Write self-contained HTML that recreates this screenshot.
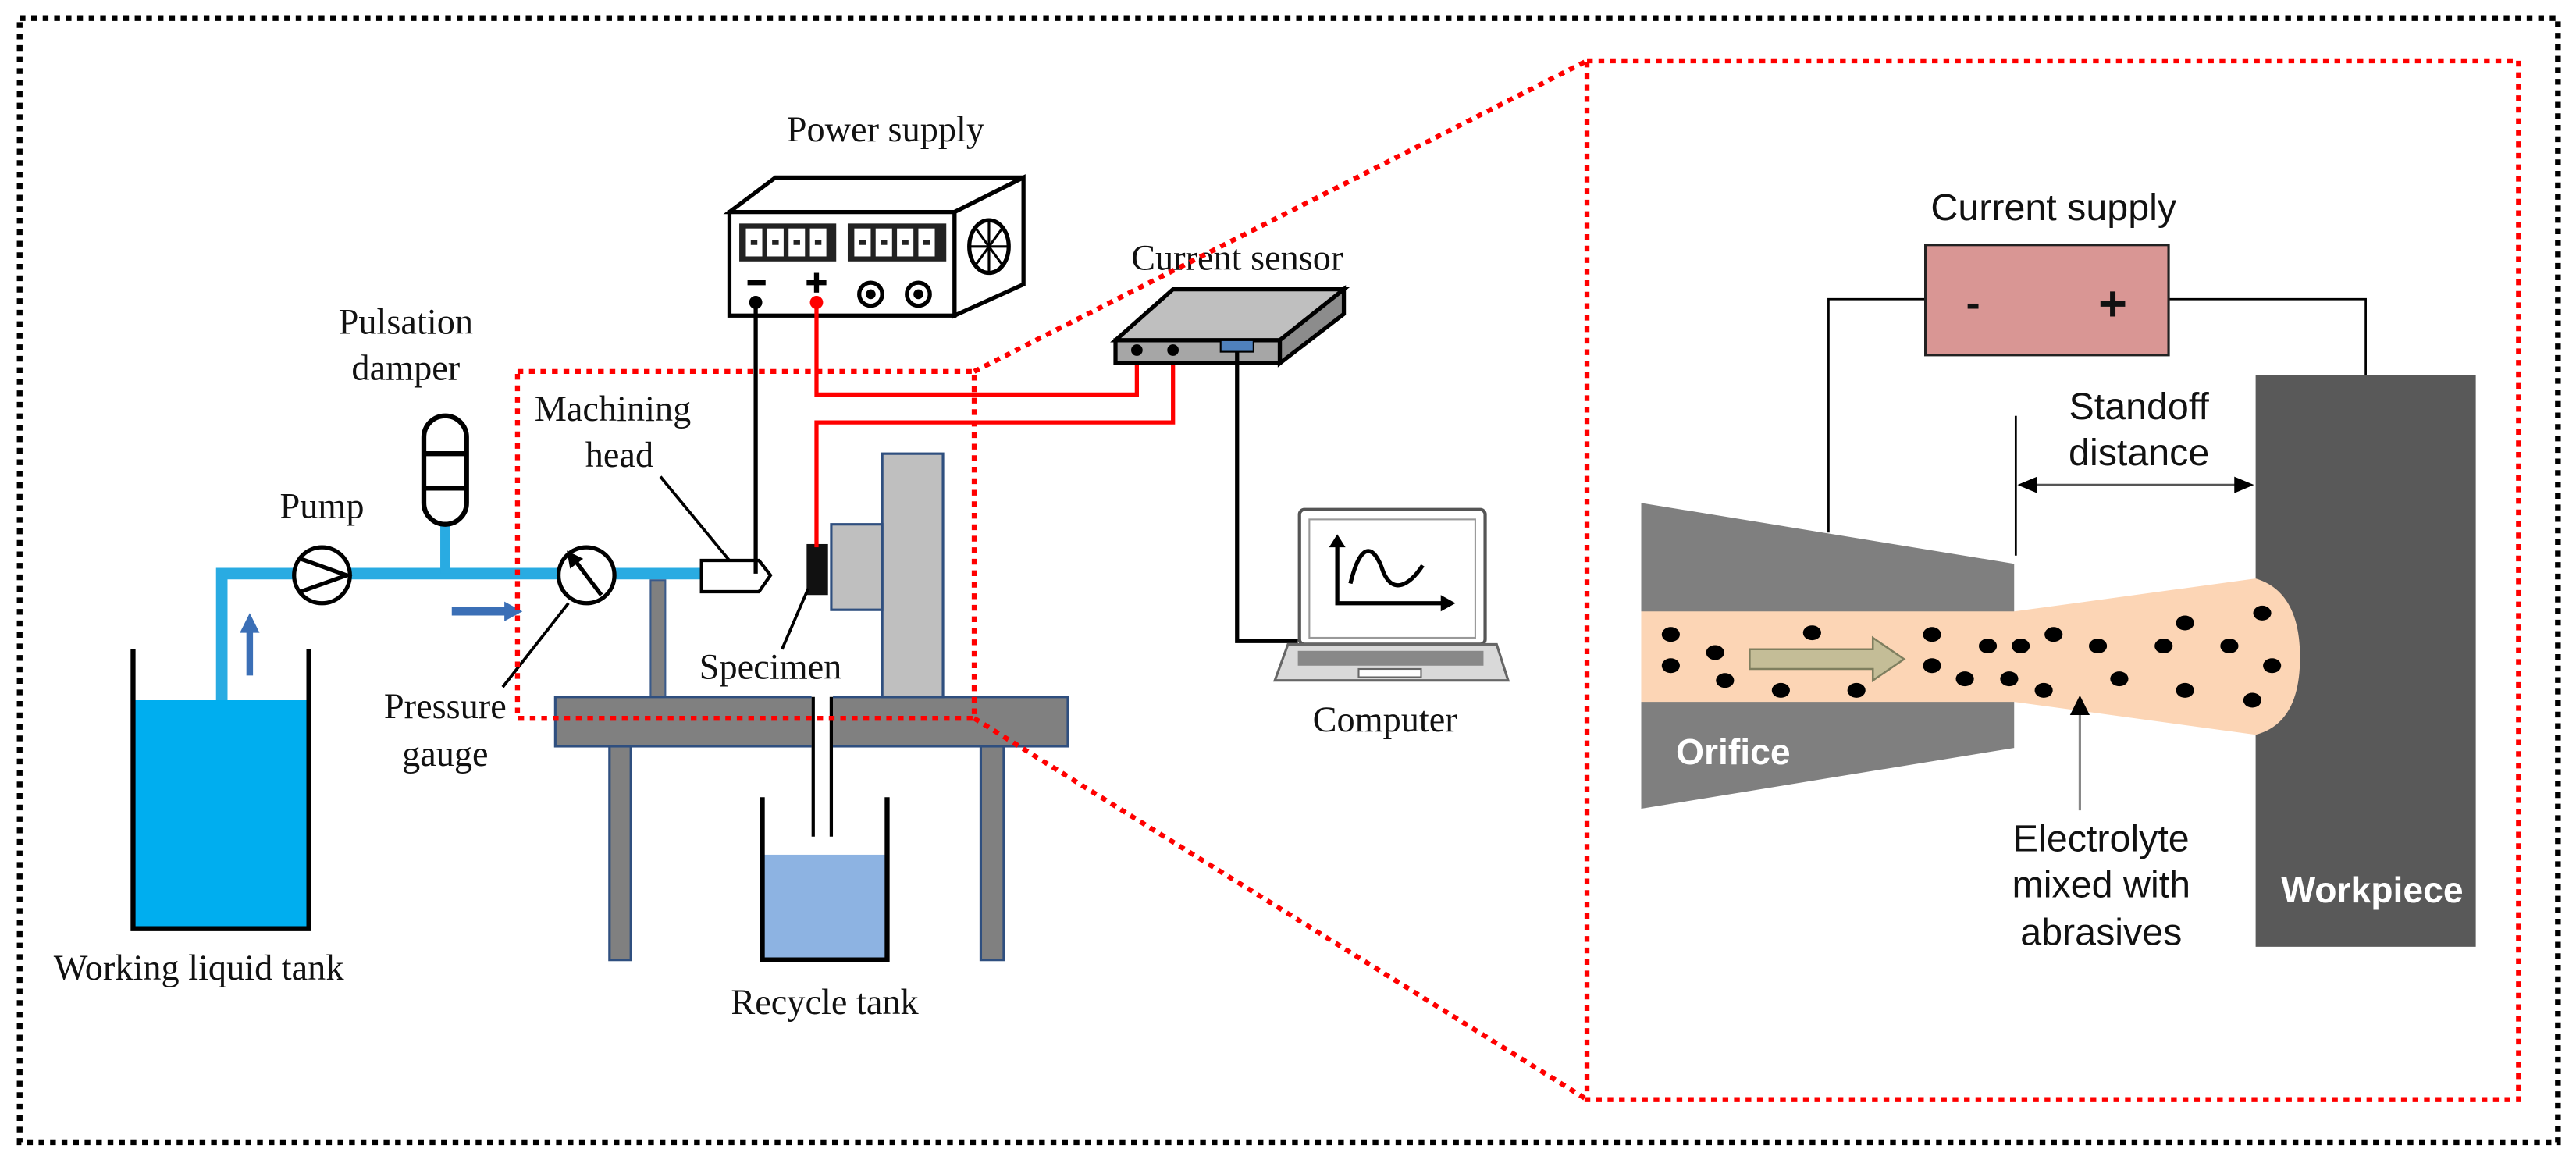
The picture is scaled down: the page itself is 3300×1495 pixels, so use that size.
<!DOCTYPE html>
<html><head><meta charset="utf-8"><style>
html,body{margin:0;padding:0;background:#fff;}
svg{display:block;}
.t{font-family:"Liberation Serif",serif;font-size:22px;fill:#111;text-anchor:middle;}
.a{font-family:"Liberation Sans",sans-serif;font-size:23px;fill:#111;text-anchor:middle;}
</style></head><body>
<svg width="3300" height="1495" viewBox="0 0 1568 710" preserveAspectRatio="none" xmlns="http://www.w3.org/2000/svg">
<rect x="0" y="0" width="1568" height="710" fill="#fff"/>
<rect x="12" y="11" width="1545" height="684" fill="none" stroke="#000" stroke-width="3.5" stroke-dasharray="3.5 3.5"/>

<rect x="81" y="426" width="107" height="139" fill="#00aeef"/>
<polyline points="81,395 81,565 188,565 188,395" fill="none" stroke="#000" stroke-width="3"/>
<polyline points="135,426 135,349 466,349" fill="none" stroke="#29abe2" stroke-width="7"/>
<line x1="271" y1="319" x2="271" y2="349" stroke="#29abe2" stroke-width="6"/>
<line x1="152" y1="411" x2="152" y2="384" stroke="#3b6fb6" stroke-width="4"/>
<polygon points="146,385 158,385 152,373" fill="#3b6fb6"/>
<line x1="275" y1="372" x2="308" y2="372" stroke="#3b6fb6" stroke-width="5"/>
<polygon points="307,366 307,378 318,372" fill="#3b6fb6"/>
<circle cx="196" cy="350" r="17" fill="#fff" stroke="#000" stroke-width="2.5"/>
<polyline points="183,340 211,350 183,360" fill="none" stroke="#000" stroke-width="2.5"/>
<rect x="258" y="253" width="26" height="66" rx="13" fill="#fff" stroke="#000" stroke-width="3"/>
<line x1="258" y1="276" x2="284" y2="276" stroke="#000" stroke-width="3"/>
<line x1="258" y1="297" x2="284" y2="297" stroke="#000" stroke-width="3"/>
<circle cx="357" cy="350" r="17" fill="#fff" stroke="#000" stroke-width="2.5"/>
<line x1="366" y1="362" x2="350" y2="341" stroke="#000" stroke-width="2.5"/>
<polygon points="345,335 355,340 347,346" fill="#000"/>
<line x1="346" y1="367" x2="306" y2="418" stroke="#000" stroke-width="1.8"/>
<rect x="396" y="353" width="9" height="71" fill="#808080" stroke="#3a5a8a" stroke-width="1"/>
<rect x="338" y="424" width="312" height="30" fill="#808080" stroke="#2f4f7f" stroke-width="1.5"/>
<rect x="371" y="454" width="13" height="130" fill="#808080" stroke="#2f4f7f" stroke-width="1.5"/>
<rect x="597" y="454" width="14" height="130" fill="#808080" stroke="#2f4f7f" stroke-width="1.5"/>
<rect x="494" y="420" width="13" height="89" fill="#fff"/>
<line x1="495" y1="424" x2="495" y2="509" stroke="#000" stroke-width="2"/>
<line x1="506" y1="424" x2="506" y2="509" stroke="#000" stroke-width="2"/>
<rect x="464" y="520" width="76" height="64" fill="#8db3e2"/>
<polyline points="464,485 464,584 540,584 540,485" fill="none" stroke="#000" stroke-width="3"/>
<rect x="537" y="276" width="37" height="148" fill="#bfbfbf" stroke="#2f4f7f" stroke-width="1.5"/>
<rect x="506" y="319" width="31" height="52" fill="#bfbfbf" stroke="#2f4f7f" stroke-width="1.5"/>
<rect x="491" y="331" width="13" height="31" fill="#111"/>
<polygon points="427,341 462,341 469,350 462,360 427,360" fill="#fff" stroke="#000" stroke-width="2"/>
<line x1="402" y1="290" x2="444" y2="341" stroke="#000" stroke-width="1.8"/>
<line x1="492" y1="358" x2="476" y2="395" stroke="#000" stroke-width="1.8"/>
<polygon points="444,129 472,108 623,108 581,129" fill="#fff" stroke="#000" stroke-width="2.5"/>
<polygon points="581,129 623,108 623,173 581,192" fill="#fff" stroke="#000" stroke-width="2.5"/>
<rect x="444" y="129" width="137" height="63" fill="#fff" stroke="#000" stroke-width="2.5"/>
<rect x="450" y="136" width="59" height="23" fill="#222"/>
<rect x="516" y="136" width="60" height="23" fill="#222"/>
<g fill="#fff">
<rect x="454" y="139" width="10" height="17"/><rect x="467" y="139" width="10" height="17"/><rect x="480" y="139" width="10" height="17"/><rect x="493" y="139" width="10" height="17"/>
<rect x="520" y="139" width="10" height="17"/><rect x="533" y="139" width="10" height="17"/><rect x="546" y="139" width="10" height="17"/><rect x="559" y="139" width="10" height="17"/>
</g>
<g fill="#222"><rect x="457" y="146" width="4" height="3"/><rect x="470" y="146" width="4" height="3"/><rect x="483" y="146" width="4" height="3"/><rect x="496" y="146" width="4" height="3"/><rect x="523" y="146" width="4" height="3"/><rect x="536" y="146" width="4" height="3"/><rect x="549" y="146" width="4" height="3"/><rect x="562" y="146" width="4" height="3"/></g>
<ellipse cx="602" cy="150" rx="12" ry="16" fill="#fff" stroke="#000" stroke-width="2.5"/>
<g stroke="#000" stroke-width="1.5"><line x1="590" y1="150" x2="614" y2="150"/><line x1="602" y1="134" x2="602" y2="166"/><line x1="594" y1="139" x2="610" y2="161"/><line x1="594" y1="161" x2="610" y2="139"/></g>
<line x1="455" y1="172" x2="466" y2="172" stroke="#000" stroke-width="3"/>
<line x1="491" y1="172" x2="503" y2="172" stroke="#000" stroke-width="3"/><line x1="497" y1="166" x2="497" y2="178" stroke="#000" stroke-width="3"/>
<circle cx="530" cy="179" r="7" fill="#fff" stroke="#000" stroke-width="2.5"/><circle cx="530" cy="179" r="3" fill="#000"/>
<circle cx="559" cy="179" r="7" fill="#fff" stroke="#000" stroke-width="2.5"/><circle cx="559" cy="179" r="3" fill="#000"/>
<polyline points="460,184 460,349" fill="none" stroke="#000" stroke-width="2.5"/>
<circle cx="460" cy="184" r="4" fill="#000"/>
<polyline points="497,184 497,240 692,240 692,209" fill="none" stroke="#f00" stroke-width="2.5"/>
<circle cx="497" cy="184" r="4" fill="#f00"/>
<polyline points="497,333 497,257 714,257 714,209" fill="none" stroke="#f00" stroke-width="2.5"/>
<polygon points="679,207 714,176 818,176 779,207" fill="#bfbfbf" stroke="#000" stroke-width="2.5"/>
<polygon points="779,207 818,176 818,191 779,221" fill="#8c8c8c" stroke="#000" stroke-width="2.5"/>
<rect x="679" y="207" width="100" height="14" fill="#a6a6a6" stroke="#000" stroke-width="2.5"/>
<circle cx="692" cy="213" r="3.5" fill="#000"/><circle cx="714" cy="213" r="3.5" fill="#000"/>
<rect x="743" y="207" width="20" height="7" fill="#4f81bd" stroke="#000" stroke-width="1"/>
<polyline points="753,214 753,390 790,390" fill="none" stroke="#000" stroke-width="2.5"/>
<rect x="791" y="310" width="113" height="82" rx="3" fill="#fff" stroke="#555" stroke-width="2"/>
<rect x="797" y="316" width="101" height="72" fill="#fff" stroke="#999" stroke-width="1"/>
<polygon points="784,392 911,392 918,414 776,414" fill="#d9d9d9" stroke="#666" stroke-width="1.5"/>
<rect x="790" y="396" width="113" height="9" fill="#888"/>
<rect x="827" y="407" width="38" height="5" fill="#fff" stroke="#666" stroke-width="1"/>
<polyline points="814,330 814,367 880,367" fill="none" stroke="#000" stroke-width="2.5"/>
<polygon points="809,333 819,333 814,325" fill="#000"/>
<polygon points="877,362 877,372 886,367" fill="#000"/>
<path d="M822,355 C828,330 836,330 842,348 C848,362 858,356 866,344" fill="none" stroke="#000" stroke-width="2.5"/>
<text class="t" x="539" y="86">Power supply</text>
<text class="t" x="753" y="164">Current sensor</text>
<text class="t" x="247" y="203">Pulsation</text>
<text class="t" x="247" y="231">damper</text>
<text class="t" x="196" y="315">Pump</text>
<text class="t" x="373" y="256">Machining</text>
<text class="t" x="377" y="284">head</text>
<text class="t" x="469" y="413">Specimen</text>
<text class="t" x="271" y="437">Pressure</text>
<text class="t" x="271" y="466">gauge</text>
<text class="t" x="843" y="445">Computer</text>
<text class="t" x="121" y="596">Working liquid tank</text>
<text class="t" x="502" y="617">Recycle  tank</text>

<rect x="315" y="226" width="278" height="211" fill="none" stroke="#f00" stroke-width="3" stroke-dasharray="3.5 3.5"/>
<line x1="593" y1="226" x2="966" y2="37" stroke="#f00" stroke-width="3" stroke-dasharray="3.5 3.5"/>
<line x1="593" y1="437" x2="966" y2="669" stroke="#f00" stroke-width="3" stroke-dasharray="3.5 3.5"/>
<rect x="966" y="37" width="567" height="632" fill="#fff" stroke="#f00" stroke-width="3" stroke-dasharray="3.5 3.5"/>

<polyline points="1172,182 1113,182 1113,324" fill="none" stroke="#000" stroke-width="1.3"/>
<polyline points="1320,182 1440,182 1440,228" fill="none" stroke="#000" stroke-width="1.3"/>
<rect x="1172" y="149" width="148" height="67" fill="#d99694" stroke="#222" stroke-width="1.5"/>
<text x="1201" y="193" font-family="Liberation Sans,sans-serif" font-size="26" font-weight="bold" fill="#111" text-anchor="middle">-</text>
<text x="1286" y="195" font-family="Liberation Sans,sans-serif" font-size="30" font-weight="bold" fill="#111" text-anchor="middle">+</text>
<text class="a" x="1250" y="134">Current supply</text>
<rect x="1373" y="228" width="134" height="348" fill="#595959"/>
<polygon points="999,306 1226,343 1226,455 999,492" fill="#7f7f7f"/>
<path d="M999,372 L1226,372 L1373,352 Q1400,360 1400,400 Q1400,440 1373,447 L1226,427 L999,427 Z" fill="#fcd5b5"/>
<g fill="#000">
<ellipse cx="1017" cy="386" rx="5.5" ry="4.5"/><ellipse cx="1017" cy="405" rx="5.5" ry="4.5"/><ellipse cx="1044" cy="397" rx="5.5" ry="4.5"/><ellipse cx="1050" cy="414" rx="5.5" ry="4.5"/><ellipse cx="1084" cy="420" rx="5.5" ry="4.5"/><ellipse cx="1103" cy="385" rx="5.5" ry="4.5"/><ellipse cx="1130" cy="420" rx="5.5" ry="4.5"/><ellipse cx="1176" cy="386" rx="5.5" ry="4.5"/><ellipse cx="1176" cy="405" rx="5.5" ry="4.5"/><ellipse cx="1196" cy="413" rx="5.5" ry="4.5"/><ellipse cx="1210" cy="393" rx="5.5" ry="4.5"/><ellipse cx="1230" cy="393" rx="5.5" ry="4.5"/><ellipse cx="1223" cy="413" rx="5.5" ry="4.5"/><ellipse cx="1250" cy="386" rx="5.5" ry="4.5"/><ellipse cx="1244" cy="420" rx="5.5" ry="4.5"/><ellipse cx="1277" cy="393" rx="5.5" ry="4.5"/><ellipse cx="1290" cy="413" rx="5.5" ry="4.5"/><ellipse cx="1317" cy="393" rx="5.5" ry="4.5"/><ellipse cx="1330" cy="379" rx="5.5" ry="4.5"/><ellipse cx="1330" cy="420" rx="5.5" ry="4.5"/><ellipse cx="1357" cy="393" rx="5.5" ry="4.5"/><ellipse cx="1377" cy="373" rx="5.5" ry="4.5"/><ellipse cx="1383" cy="405" rx="5.5" ry="4.5"/><ellipse cx="1371" cy="426" rx="5.5" ry="4.5"/>
</g>
<polygon points="1065,395 1140,395 1140,388 1159,401 1140,414 1140,407 1065,407" fill="#c4bd97" stroke="#7f7f5f" stroke-width="1.2"/>
<text x="1055" y="465" font-family="Liberation Sans,sans-serif" font-size="22" font-weight="bold" fill="#fff" text-anchor="middle">Orifice</text>
<text x="1444" y="549" font-family="Liberation Sans,sans-serif" font-size="22" font-weight="bold" fill="#fff" text-anchor="middle">Workpiece</text>
<line x1="1227" y1="253" x2="1227" y2="338" stroke="#000" stroke-width="1.3"/>
<line x1="1236" y1="295" x2="1364" y2="295" stroke="#555" stroke-width="1.3"/>
<polygon points="1228,295 1240,290 1240,300" fill="#000"/>
<polygon points="1372,295 1360,290 1360,300" fill="#000"/>
<text class="a" x="1302" y="255">Standoff</text>
<text class="a" x="1302" y="283">distance</text>
<line x1="1266" y1="432" x2="1266" y2="493" stroke="#888" stroke-width="1.5"/>
<polygon points="1266,423 1260,435 1272,435" fill="#000"/>
<text class="a" x="1279" y="518">Electrolyte</text>
<text class="a" x="1279" y="546">mixed with</text>
<text class="a" x="1279" y="575">abrasives</text>
</svg>
</body></html>
